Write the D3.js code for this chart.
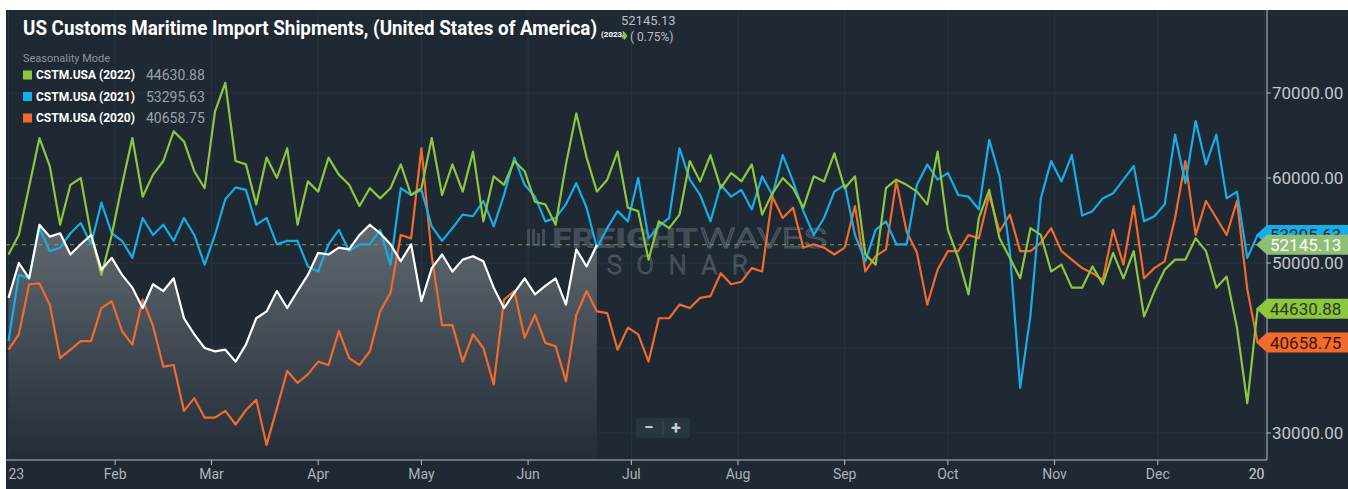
<!DOCTYPE html>
<html>
<head>
<meta charset="utf-8">
<script src="https://cdn.jsdelivr.net/npm/d3@7"></script>
<style>
  body { margin: 0; background: #ffffff; }
  svg { display: block; font-family: Roboto, "Open Sans", sans-serif; }
</style>
</head>
<body>
<div id="chart"></div>
<script>
// samples every 3 days starting Jan 1 (seasonality mode: all years on a 2023 calendar)
const STEP_DAYS = 3

const seriesNames = ["CSTM.USA (2022)", "CSTM.USA (2021)", "CSTM.USA (2020)"]
const seriesColors = ["#8dc63f", "#17ade6", "#f26a2c"]
const lastValues = [44630.88, 53295.63, 40658.75]
const current2023 = 52145.13
const changeText = "( 0.75%)"
const yTicks = [30000, 40000, 50000, 60000, 70000]
const yLabels = [30000, 50000, 60000, 70000] // 40000 sits under the 2020 flag

const green2022 = [
  51000, 53300, 59000, 64700, 61400, 54500, 59200, 60000, 53300, 48600, 53300, 59200, 64700, 57800, 60400, 62000, 65500, 64300, 60800, 58800, 67800,
  71200, 62000, 61600, 56900, 62400, 60000, 63500, 54500, 59600, 58400, 62400, 60400, 59200, 56700, 58800, 57600, 58800, 61600, 58000, 58800,
  64700, 58000, 61600, 58400, 63100, 54900, 60200, 59200, 62000, 60800, 57200, 56900, 54500, 61600, 67600, 62400, 58400, 59800, 63100, 56500,
  56100, 50400, 54900, 54100, 55700, 62000, 59600, 62700, 58800, 60600, 59600, 61600, 55700, 58200, 60000, 58800, 56500, 60200, 59600, 62900, 58800,
  60200, 51000, 49800, 58800, 59800, 59200, 58400, 56900, 63100, 53900, 50600, 46300, 55300, 58600, 52900, 50600, 48200, 54100, 53300, 49000,
  49800, 47100, 47100, 49600, 47500, 51200, 48200, 51400, 43700, 46700, 49200, 50400, 50400, 52900, 51400, 47100, 48400, 42400, 33500, 44630.88
]

const blue2021 = [
  40800, 48600, 48200, 54100, 51400, 51800, 53500, 54700, 52200, 57100, 53500, 52600, 50600, 55300, 53300, 54500, 52600, 55300, 53300, 49800, 53300,
  57500, 58900, 58600, 54500, 55300, 52200, 52600, 52600, 49600, 49000, 52200, 53900, 51400, 52200, 52200, 53900, 49800, 58800, 58000, 58600,
  54300, 52600, 54100, 55700, 55500, 57300, 54300, 58000, 62400, 59200, 57800, 54900, 55300, 56900, 59400, 56500, 51800, 54100, 56100, 54900,
  60000, 52900, 54300, 55300, 63500, 59800, 58000, 54900, 59200, 57800, 58600, 56300, 60200, 58000, 62700, 59600, 56100, 53300, 55300, 58400, 59200,
  53300, 50200, 53900, 54900, 52200, 52200, 59200, 61600, 59800, 60600, 58000, 57800, 56300, 64500, 60200, 51400, 35300, 43900, 57600, 62000,
  59600, 62700, 55600, 56100, 57600, 58200, 59800, 61400, 54900, 55500, 56900, 65100, 59400, 66700, 61600, 65100, 57600, 58400, 50600, 53295.63
]

const orange2020 = [
  39800, 41600, 47500, 47600, 45100, 38800, 39800, 40800, 40800, 44700, 45500, 42000, 40400, 45700, 42600, 37800, 38000, 32600, 34100, 31800, 31800,
  32600, 31000, 32700, 33900, 28600, 32900, 37300, 35900, 36900, 38400, 38000, 42000, 38800, 38000, 39600, 44300, 46500, 53300, 52900, 63500,
  50800, 42700, 42700, 38400, 41600, 40000, 35700, 45700, 46700, 41200, 43900, 40600, 40200, 36100, 43900, 46700, 44300, 44100, 39800, 42400,
  41600, 38400, 43500, 43500, 45100, 44700, 45900, 46100, 48800, 47500, 47800, 49400, 49000, 57800, 55300, 56500, 51800, 52200, 51800, 51000, 51800,
  56700, 49000, 50800, 51600, 59600, 53700, 51200, 45100, 49200, 51400, 51400, 53300, 52900, 58000, 53700, 55700, 51400, 51400, 52400, 54100,
  51400, 50400, 49400, 48800, 48000, 53900, 49800, 56700, 48200, 49400, 50200, 55300, 62000, 53300, 57300, 55300, 53300, 57300, 46900, 40658.75
]

const white2023 = [
  45900, 50000, 48200, 54500, 53100, 53500, 51000, 52200, 53300, 49200, 50600, 48600, 47100, 44700, 47500, 46700, 48200, 43500, 41600, 40000, 39600,
  39800, 38400, 40400, 43500, 44300, 46700, 44700, 46700, 48600, 51200, 51000, 51800, 51600, 53300, 54500, 53500, 52200, 50200, 52200, 45500,
  49400, 51000, 49000, 50400, 50800, 50200, 47100, 44700, 46500, 48200, 46300, 47300, 48200, 45100, 51600, 49600, 52145.13
]

const W = 1348, H = 489
const plot = { left: 6, right: 1267, top: 10, bottom: 460 }
const start = new Date(2023, 0, 1)

const toPoints = vals => vals.map((v, i) => ({ date: d3.timeDay.offset(start, i * STEP_DAYS), value: v }))

const x = d3.scaleTime()
  .domain([start, new Date(2024, 0, 1)])
  .range([8.5, 1264.5])

const y = d3.scaleLinear()
  .domain([30000, 70000])
  .range([433, 93])

const svg = d3.select("#chart").append("svg")
  .attr("width", W)
  .attr("height", H)

svg.append("rect")
  .attr("x", plot.left).attr("y", plot.top)
  .attr("width", W - plot.left).attr("height", H - plot.top)
  .attr("fill", "#1e2934")

const defs = svg.append("defs")
defs.append("clipPath").attr("id", "plotClip")
  .append("rect")
  .attr("x", plot.left).attr("y", plot.top)
  .attr("width", plot.right - plot.left).attr("height", plot.bottom - plot.top)
defs.append("clipPath").attr("id", "xLabelClip")
  .append("rect")
  .attr("x", 8).attr("y", plot.bottom)
  .attr("width", 1265 - 8).attr("height", H - plot.bottom)

const grad = defs.append("linearGradient")
  .attr("id", "fill2023")
  .attr("gradientUnits", "userSpaceOnUse")
  .attr("x1", 0).attr("y1", 215).attr("x2", 0).attr("y2", plot.bottom)
grad.append("stop").attr("offset", 0).attr("stop-color", "#646b72")
grad.append("stop").attr("offset", 1).attr("stop-color", "#222d38")

// grid
const grid = svg.append("g").attr("clip-path", "url(#plotClip)")
grid.selectAll(".hg")
  .data(yTicks)
  .enter().append("line")
  .attr("x1", plot.left).attr("x2", plot.right)
  .attr("y1", d => y(d)).attr("y2", d => y(d))
  .attr("stroke", "#283540").attr("stroke-width", 1)
grid.selectAll(".vg")
  .data(x.ticks(d3.timeMonth.every(1)))
  .enter().append("line")
  .attr("x1", d => x(d)).attr("x2", d => x(d))
  .attr("y1", plot.top).attr("y2", plot.bottom)
  .attr("stroke", "#283540").attr("stroke-width", 1)

// watermark
const wm = svg.append("g").attr("opacity", 0.9)
const logo = wm.append("g").attr("fill", "#47515b")
logo.append("rect").attr("x", 527).attr("y", 229).attr("width", 3).attr("height", 17)
logo.append("rect").attr("x", 532).attr("y", 229).attr("width", 3).attr("height", 17)
logo.append("rect").attr("x", 537).attr("y", 233).attr("width", 3).attr("height", 13)
logo.append("rect").attr("x", 542).attr("y", 229).attr("width", 3).attr("height", 17)
wm.append("text")
  .attr("x", 552).attr("y", 248)
  .attr("font-size", 27).attr("font-weight", 900)
  .attr("fill", "#47515b")
  .attr("textLength", 146).attr("lengthAdjust", "spacingAndGlyphs")
  .text("FREIGHT")
wm.append("text")
  .attr("x", 700).attr("y", 248)
  .attr("font-size", 27).attr("font-weight", 300)
  .attr("fill", "none").attr("stroke", "#55606a").attr("stroke-width", 1)
  .attr("textLength", 127).attr("lengthAdjust", "spacingAndGlyphs")
  .text("WAVES")
wm.append("text")
  .attr("x", 607).attr("y", 274)
  .attr("font-size", 25).attr("font-weight", 300)
  .attr("fill", "none").attr("stroke", "#55606a").attr("stroke-width", 1)
  .attr("textLength", 141).attr("lengthAdjust", "spacing")
  .text("SONAR")

const plotG = svg.append("g").attr("clip-path", "url(#plotClip)")

// 2023 area
const pts2023 = toPoints(white2023)
plotG.append("path")
  .datum(pts2023)
  .attr("d", d3.area().x(d => x(d.date)).y0(plot.bottom).y1(d => y(d.value)))
  .attr("fill", "url(#fill2023)")

// current value dashed line
plotG.append("line")
  .attr("x1", plot.left).attr("x2", plot.right)
  .attr("y1", y(current2023)).attr("y2", y(current2023))
  .attr("stroke", "#7f9e66").attr("stroke-width", 1)
  .attr("stroke-dasharray", "4,4")

const line = d3.line().x(d => x(d.date)).y(d => y(d.value))

const series = [
  { name: seriesNames[2], color: seriesColors[2], values: orange2020 },
  { name: seriesNames[1], color: seriesColors[1], values: blue2021 },
  { name: seriesNames[0], color: seriesColors[0], values: green2022 }
]

plotG.selectAll(".series")
  .data(series)
  .enter().append("path")
  .attr("class", "series")
  .attr("d", d => line(toPoints(d.values)))
  .attr("fill", "none")
  .attr("stroke", d => d.color)
  .attr("stroke-width", 2.2)
  .attr("stroke-linejoin", "round")

plotG.append("path")
  .attr("d", line(pts2023))
  .attr("fill", "none")
  .attr("stroke", "#ffffff")
  .attr("stroke-width", 2.2)
  .attr("stroke-linejoin", "round")

// bottom axis
svg.append("line")
  .attr("x1", plot.left).attr("x2", plot.right)
  .attr("y1", plot.bottom).attr("y2", plot.bottom)
  .attr("stroke", "#b8bfc6").attr("stroke-width", 1)

const months = x.ticks(d3.timeMonth.every(1)).concat([new Date(2024, 0, 1)])
svg.selectAll(".xt")
  .data(months.filter(d => x(d) > 20 && x(d) < plot.right - 5))
  .enter().append("line")
  .attr("x1", d => x(d)).attr("x2", d => x(d))
  .attr("y1", plot.bottom).attr("y2", plot.bottom + 5)
  .attr("stroke", "#b8bfc6")

const fmtMonth = d => d.getMonth() === 0 ? d3.timeFormat("%Y")(d) : d3.timeFormat("%b")(d)
svg.append("g").attr("clip-path", "url(#xLabelClip)")
  .selectAll("text")
  .data(months)
  .enter().append("text")
  .attr("x", d => x(d))
  .attr("y", 479)
  .attr("text-anchor", "middle")
  .attr("font-size", 14)
  .attr("fill", "#aeb4ba")
  .text(fmtMonth)

// right axis
svg.append("line")
  .attr("x1", plot.right).attr("x2", plot.right)
  .attr("y1", plot.top).attr("y2", plot.bottom)
  .attr("stroke", "#b8bfc6").attr("stroke-width", 1)

svg.selectAll(".yt")
  .data(yTicks)
  .enter().append("line")
  .attr("x1", plot.right).attr("x2", plot.right + 4)
  .attr("y1", d => y(d)).attr("y2", d => y(d))
  .attr("stroke", "#b8bfc6")

svg.selectAll(".yl")
  .data(yLabels)
  .enter().append("text")
  .attr("x", plot.right + 5)
  .attr("y", d => y(d))
  .attr("dy", "0.36em")
  .attr("font-size", 17)
  .attr("fill", "#c3c8ce")
  .text(d => d3.format(".2f")(d))

// last value flags
const flags = [
  { value: lastValues[1], bg: "#17ade6", fg: "#1d2b36" },
  { value: lastValues[2], bg: "#f26a2c", fg: "#3b1606" },
  { value: lastValues[0], bg: "#8dc63f", fg: "#2c3a16" },
  { value: current2023, bg: "#8fbf76", fg: "#ffffff" }
]
const flagG = svg.selectAll(".flag")
  .data(flags)
  .enter().append("g")
  .attr("transform", d => `translate(0,${y(d.value)})`)
flagG.append("path")
  .attr("d", `M${plot.right - 11},0 L${plot.right},-10 L${W},-10 L${W},10 L${plot.right},10 Z`)
  .attr("fill", d => d.bg)
flagG.append("text")
  .attr("x", plot.right + 3)
  .attr("dy", "0.36em")
  .attr("font-size", 17)
  .attr("fill", d => d.fg)
  .text(d => d3.format(".2f")(d.value))

// title block
svg.append("text")
  .attr("x", 23).attr("y", 35)
  .attr("font-size", 21).attr("font-weight", 700)
  .attr("fill", "#ffffff")
  .attr("textLength", 574).attr("lengthAdjust", "spacingAndGlyphs")
  .text("US Customs Maritime Import Shipments, (United States of America)")
svg.append("text")
  .attr("x", 601).attr("y", 37)
  .attr("font-size", 8).attr("font-weight", 700)
  .attr("fill", "#ffffff")
  .text("(2023)")
svg.append("text")
  .attr("x", 621).attr("y", 25)
  .attr("font-size", 13)
  .attr("fill", "#b9bfc5")
  .text(d3.format(".2f")(current2023))
svg.append("path")
  .attr("d", "M624.5,32 L627.5,36 L624.5,40 L621.5,36 Z")
  .attr("fill", "#8dc63f")
svg.append("text")
  .attr("x", 630).attr("y", 41)
  .attr("font-size", 12)
  .attr("fill", "#b9bfc5")
  .text(changeText)

// legend
svg.append("text")
  .attr("x", 23).attr("y", 62)
  .attr("font-size", 11)
  .attr("fill", "#8e959c")
  .text("Seasonality Mode")

const leg = svg.selectAll(".leg")
  .data(seriesNames)
  .enter().append("g")
  .attr("transform", (d, i) => `translate(23,${75 + i * 21.5})`)
leg.append("rect")
  .attr("x", 0).attr("y", -4.5)
  .attr("width", 9).attr("height", 9)
  .attr("fill", (d, i) => seriesColors[i])
leg.append("text")
  .attr("x", 13).attr("dy", "0.36em")
  .attr("font-size", 12).attr("font-weight", 700)
  .attr("fill", "#ffffff")
  .text(d => d)
leg.append("text")
  .attr("x", 123).attr("dy", "0.36em")
  .attr("font-size", 14)
  .attr("fill", "#9aa1a8")
  .text((d, i) => d3.format(".2f")(lastValues[i]))

// zoom buttons
const zb = svg.append("g")
zb.append("rect")
  .attr("x", 636).attr("y", 418)
  .attr("width", 54).attr("height", 20).attr("rx", 3)
  .attr("fill", "#283641")
zb.append("line")
  .attr("x1", 663).attr("x2", 663).attr("y1", 421).attr("y2", 435)
  .attr("stroke", "#3c4a55")
zb.append("text")
  .attr("x", 649).attr("y", 433)
  .attr("text-anchor", "middle")
  .attr("font-size", 17).attr("font-weight", 700)
  .attr("fill", "#c7ccd1")
  .text("−")
zb.append("text")
  .attr("x", 676).attr("y", 434)
  .attr("text-anchor", "middle")
  .attr("font-size", 18).attr("font-weight", 700)
  .attr("fill", "#c7ccd1")
  .text("+")
</script>
</body>
</html>
